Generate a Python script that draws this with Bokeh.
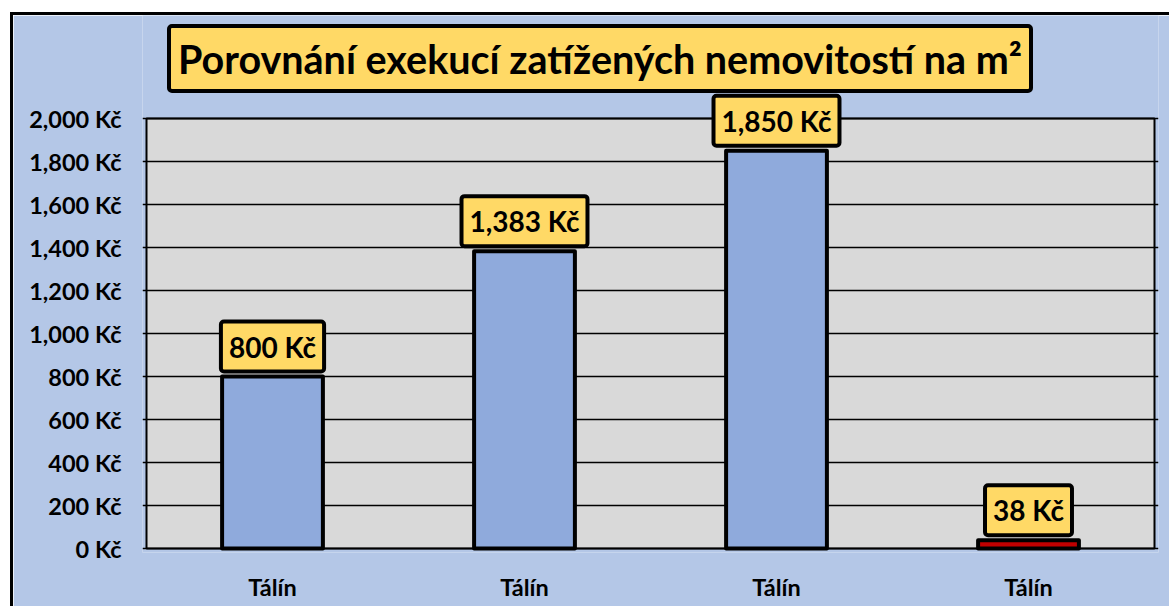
from bokeh.plotting import figure
from bokeh.models import ColumnDataSource, FixedTicker, Label, BoxAnnotation
from bokeh.embed import file_html
from bokeh.resources import INLINE

# ---- data ----
categories = ["Tálín", "Tálín", "Tálín", "Tálín"]
values = [800, 1383, 1850, 38]
value_labels = ["800 Kč", "1,383 Kč", "1,850 Kč", "38 Kč"]
bar_colors = ["#8FAADC", "#8FAADC", "#8FAADC", "#C00000"]
y_ticks = [0, 200, 400, 600, 800, 1000, 1200, 1400, 1600, 1800, 2000]
y_tick_labels = ["0 Kč", "200 Kč", "400 Kč", "600 Kč", "800 Kč", "1,000 Kč",
                 "1,200 Kč", "1,400 Kč", "1,600 Kč", "1,800 Kč", "2,000 Kč"]
title_text = "Porovnání exekucí zatížených nemovitostí na m²"

FONT = "Lato"
BG = "#B4C7E7"
PLOT_BG = "#D9D9D9"
YELLOW = "#FFD966"

# layout (pixels)
OFF_X, OFF_Y = 13, 15          # outer frame offset (margin + border)
W, H = 1172 - OFF_X, 609 - OFF_Y
PAD = 4                        # extra frame pixels so the plot-area outline is not clipped
AREA_LEFT, AREA_RIGHT = 146 - OFF_X, 1154 - OFF_X
AREA_BOTTOM, AREA_TOP = 548 - OFF_Y, 118 - OFF_Y
n = len(categories)
px_per_x = (AREA_RIGHT - AREA_LEFT) / n
px_per_y = (AREA_BOTTOM - AREA_TOP) / (y_ticks[-1] - y_ticks[0])
x_lo = -0.5 - PAD / px_per_x
x_hi = n - 0.5 + PAD / px_per_x
y_lo = y_ticks[0] - PAD / px_per_y
y_hi = y_ticks[0] + AREA_BOTTOM / px_per_y

xs = list(range(n))
src = ColumnDataSource(dict(x=xs, top=values, color=bar_colors, label=value_labels))

p = figure(width=W, height=H, output_backend="svg", toolbar_location=None,
           x_range=(x_lo, x_hi), y_range=(y_lo, y_hi),
           min_border_left=AREA_LEFT - PAD, min_border_right=W - AREA_RIGHT - PAD,
           min_border_top=0, min_border_bottom=H - AREA_BOTTOM - PAD)
p.styles = {"margin-left": "10px", "margin-top": "12px",
            "border-left": "3px solid black", "border-top": "3px solid black"}
p.border_fill_color = BG
p.background_fill_color = BG
p.outline_line_color = None

# plot area background (gray)
p.add_layout(BoxAnnotation(left=-0.5, right=n - 0.5, bottom=y_ticks[0],
                           top=y_ticks[-1], fill_color=PLOT_BG, fill_alpha=1,
                           line_color=None, level="image"))
# plot area outline
p.quad(left=[-0.5], right=[n - 0.5], bottom=[y_ticks[0]], top=[y_ticks[-1]],
       fill_color=None, line_color="black", line_width=2)

p.vbar(x="x", top="top", width=0.4, fill_color="color", line_color="black",
       line_width=4, line_join="round", source=src)

# grid
p.xgrid.visible = False
p.ygrid.ticker = FixedTicker(ticks=y_ticks)
p.ygrid.grid_line_color = "black"
p.ygrid.grid_line_width = 1.5
p.ygrid.bounds = (-0.5, n - 0.5)

# axes
for ax in (p.xaxis[0], p.yaxis[0]):
    ax.axis_line_color = None
    ax.major_tick_line_color = None
    ax.minor_tick_line_color = None
    ax.major_tick_out = 0
    ax.major_tick_in = 0
    ax.major_label_text_font = FONT
    ax.major_label_text_font_style = "bold"
    ax.major_label_text_font_size = "23.5px"
    ax.major_label_text_color = "black"

p.yaxis.ticker = FixedTicker(ticks=y_ticks)
p.yaxis.major_label_overrides = {t: l for t, l in zip(y_ticks, y_tick_labels)}
p.yaxis.major_label_standoff = 25 - PAD

p.xaxis.ticker = FixedTicker(ticks=xs)
p.xaxis.major_label_overrides = {x: c for x, c in zip(xs, categories)}
p.xaxis.major_label_standoff = 24 - PAD

# value labels
for x, v, t in zip(xs, values, value_labels):
    p.add_layout(Label(x=x, y=v, text=t, text_align="center", text_baseline="bottom",
                       y_offset=5, text_font=FONT, text_font_style="bold",
                       text_font_size="28px", text_color="black",
                       background_fill_color=YELLOW, border_line_color="black",
                       border_line_width=4, padding=8, border_radius=3))

# title box
p.add_layout(Label(x=596.5 - OFF_X, y=55 - OFF_Y, x_units="canvas", y_units="canvas",
                   text=title_text, text_align="center", text_baseline="middle",
                   text_font=FONT, text_font_style="bold", text_font_size="39.5px",
                   text_color="black", background_fill_color=YELLOW,
                   border_line_color="black", border_line_width=4, padding=9,
                   border_radius=3))

open("out.html", "w").write(file_html(p, INLINE))
